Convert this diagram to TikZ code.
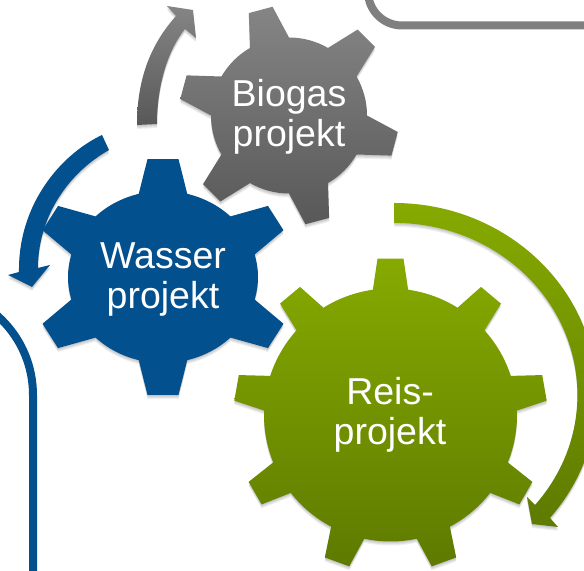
\documentclass[tikz,border=0pt]{standalone}
\usepackage{fontspec}
\setmainfont{Liberation Sans}
\definecolor{wblue}{HTML}{03508F}
\definecolor{gtop}{HTML}{858585}
\definecolor{gbot}{HTML}{585858}
\definecolor{ltop}{HTML}{86AA00}
\definecolor{lbot}{HTML}{5E7A00}
\definecolor{frameg}{HTML}{7F7F7F}
% cx, cy (px from top), rx, ry, first tooth angle, tooth count, root half angle, tip half angle, path style
\newcommand{\gearpath}[9]{%
  \pgfmathsetmacro{\gsp}{360/#6}%
  \path[shift={(#1,571-#2)},xscale=#3,yscale=#4,#9] (#5-#7:1)
    \foreach \i [evaluate=\i as \a using {#5+\i*\gsp}] in {0,...,\numexpr#6-1\relax}{%
      -- ({\a-#7}:1) -- ({\a-#8}:\gearrho) -- ({\a+#8}:\gearrho) -- ({\a+#7}:1)
      arc[start angle={\a+#7},end angle={\a+\gsp-#7},radius=1]
    } -- cycle;%
}
\newcommand{\softgear}[9]{%
  \foreach \d in {1,2,3,4}{\gearpath{#1}{(#2+\d)}{#3}{#4}{#5}{#6}{#7}{#8}{soft}}%
  \gearpath{#1}{#2}{#3}{#4}{#5}{#6}{#7}{#8}{#9}%
}
\tikzset{
  lab/.style={text=white,align=center,inner sep=0pt,font=\fontsize{37.5bp}{40bp}\selectfont},
  soft/.style={fill=black,opacity=0.06},
  framel/.style={line width=8bp,draw=#1}
}
\begin{document}
\begin{tikzpicture}[x=1bp,y=1bp]
\useasboundingbox (0,0) rectangle (584,571);
\clip (0,0) rectangle (584,571);
\fill[white] (0,0) rectangle (584,571);
% frames
\draw[framel=wblue] (-73,571-289) arc[start angle=90,end angle=0,radius=106] -- (33,-5);
\draw[framel=frameg] (368,581) -- (368,571+8.5) arc[start angle=180,end angle=270,radius=34] -- (590,571-25.5);
% arrows
\foreach \d in {1,2,3,4}{
  \path[soft,shift={(0,-\d)}] (137,571-125) .. controls (137,571-80) and (150,571-45) .. (176,571-16) -- (167,571-6) -- (193,571-10) -- (196,571-38) -- (185,571-29) .. controls (168,571-50) and (157,571-85) .. (157,571-124) -- cycle;
  \path[soft,shift={(0,-\d)}] (102,571-135) .. controls (60,571-155) and (18,571-205) .. (19,571-272) -- (8,571-275) -- (32,571-287) -- (50,571-265) -- (38,571-268) .. controls (38,571-220) and (65,571-175) .. (109,571-150) -- cycle;
  \path[soft,shift={(0,-\d)}] (394,571-203) arc[x radius=203,y radius=192,start angle=90,end angle=-39.8] -- (558,571-527) -- (532,571-524) -- (527,571-497) -- (535,571-505) arc[x radius=183,y radius=172,start angle=-39.8,end angle=90] -- cycle;
}
\path[top color=gtop,bottom color=gbot] (137,571-125) .. controls (137,571-80) and (150,571-45) .. (176,571-16) -- (167,571-6) -- (193,571-10) -- (196,571-38) -- (185,571-29) .. controls (168,571-50) and (157,571-85) .. (157,571-124) -- cycle;
\path[fill=wblue] (102,571-135) .. controls (60,571-155) and (18,571-205) .. (19,571-272) -- (8,571-275) -- (32,571-287) -- (50,571-265) -- (38,571-268) .. controls (38,571-220) and (65,571-175) .. (109,571-150) -- cycle;
\path[top color=ltop,bottom color=lbot] (394,571-203) arc[x radius=203,y radius=192,start angle=90,end angle=-39.8] -- (558,571-527) -- (532,571-524) -- (527,571-497) -- (535,571-505) arc[x radius=183,y radius=172,start angle=-39.8,end angle=90] -- cycle;
% gears
\def\gearrho{1.41}
\softgear{289}{115.5}{78}{78}{-15}{6}{15}{6.4}{top color=gtop,bottom color=gbot}
\def\gearrho{1.38}
\softgear{163}{277}{95}{86}{30}{6}{14.8}{6.8}{fill=wblue}
\def\gearrho{1.24}
\softgear{390.5}{415}{126.5}{126.5}{10}{9}{8}{4.75}{top color=ltop,bottom color=lbot}
% labels
\node[lab] (biogas) at (289,571-117) {Biogas\\projekt};
\node[lab] (wasser) at (163,571-279) {Wasser\\projekt};
\node[lab] (reis) at (390,571-415) {Reis-\\projekt};
\end{tikzpicture}
\end{document}
